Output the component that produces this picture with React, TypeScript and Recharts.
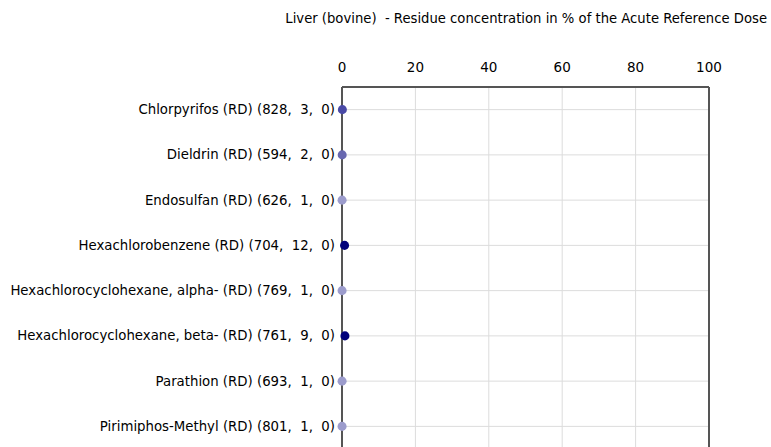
import React from "react";
import {
  ScatterChart,
  Scatter,
  XAxis,
  YAxis,
  CartesianGrid,
  ReferenceLine,
  Cell,
} from "recharts";

const categories = [
  "Chlorpyrifos (RD) (828,  3,  0)",
  "Dieldrin (RD) (594,  2,  0)",
  "Endosulfan (RD) (626,  1,  0)",
  "Hexachlorobenzene (RD) (704,  12,  0)",
  "Hexachlorocyclohexane, alpha- (RD) (769,  1,  0)",
  "Hexachlorocyclohexane, beta- (RD) (761,  9,  0)",
  "Parathion (RD) (693,  1,  0)",
  "Pirimiphos-Methyl (RD) (801,  1,  0)",
];
const values = [0.1, 0.05, 0.02, 0.7, 0.02, 0.8, 0.02, 0.02];
const pointColors = [
  "#4a4aa6",
  "#6868b0",
  "#9c9ccc",
  "#00007a",
  "#9c9ccc",
  "#00007a",
  "#9c9ccc",
  "#9c9ccc",
];
const xTicks = [0, 20, 40, 60, 80, 100];
const title =
  "Liver (bovine)  - Residue concentration in % of the Acute Reference Dose";

const data = categories.map((name, i) => ({ name, value: values[i] }));

const FONT = "'DejaVu Sans', sans-serif";

const CategoryTick = (props: any) => {
  const { x, y, payload } = props;
  return (
    <text
      x={x - 5}
      y={y}
      textAnchor="end"
      dominantBaseline="central"
      fill="#000"
      fontSize={13.3}
      fontFamily={FONT}
      style={{ whiteSpace: "pre" }}
    >
      {payload.value}
    </text>
  );
};

export default function App() {
  return (
    <div
      style={{
        position: "absolute",
        left: 0,
        top: 0,
        width: 771,
        height: 447,
        background: "#fff",
        fontFamily: FONT,
        overflow: "hidden",
      }}
    >
      <div
        style={{
          position: "absolute",
          right: 4,
          top: 11,
          fontSize: 13.2,
          color: "#000",
          whiteSpace: "pre",
        }}
      >
        {title}
      </div>
      <ScatterChart
        width={771}
        height={449}
        margin={{ top: 41, right: 62, bottom: 0, left: 0 }}
      >
        <CartesianGrid stroke="#dcdcdc" strokeWidth={1} />
        <XAxis
          type="number"
          dataKey="value"
          orientation="top"
          domain={[0, 100]}
          ticks={xTicks}
          height={46}
          tickLine={false}
          tickSize={0}
          tickMargin={15}
          axisLine={{ stroke: "#555", strokeWidth: 2 }}
          tick={{ fill: "#000", fontSize: 13.5, fontFamily: FONT }}
        />
        <YAxis
          type="category"
          dataKey="name"
          width={342}
          reversed
          tickLine={false}
          tickSize={0}
          interval={0}
          axisLine={{ stroke: "#555", strokeWidth: 2 }}
          tick={<CategoryTick />}
        />
        <ReferenceLine x={100} stroke="#555" strokeWidth={2} />
        <Scatter data={data} isAnimationActive={false} shape="circle">
          {data.map((d, i) => (
            <Cell key={i} fill={pointColors[i]} />
          ))}
        </Scatter>
      </ScatterChart>
    </div>
  );
}
